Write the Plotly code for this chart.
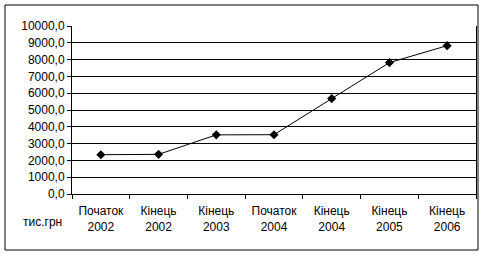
import plotly.graph_objects as go

categories = ["Початок<br>2002", "Кінець<br>2002", "Кінець<br>2003", "Початок<br>2004",
              "Кінець<br>2004", "Кінець<br>2005", "Кінець<br>2006"]
values = [2340, 2360, 3520, 3530, 5680, 7820, 8830]
y_ticks = [0, 1000, 2000, 3000, 4000, 5000, 6000, 7000, 8000, 9000, 10000]
unit_label = "тис.грн"

fig = go.Figure()
fig.add_trace(go.Scatter(
    x=categories, y=values, mode="lines+markers",
    line=dict(color="black", width=1),
    marker=dict(symbol="diamond", size=7, color="black"),
    showlegend=False,
))

fig.update_layout(
    width=491, height=256,
    margin=dict(l=72, r=15, t=26, b=62),
    paper_bgcolor="white", plot_bgcolor="white",
    separators=", ",
    font=dict(family="Liberation Sans, Arial, sans-serif", size=12, color="black"),
    xaxis=dict(
        type="category", showgrid=False, showline=True, linecolor="black", linewidth=1,
        ticks="outside", tickson="boundaries", ticklen=4, tickcolor="black",
        range=[-0.5, 6.5], mirror=False, ticklabelstandoff=6,
    ),
    yaxis=dict(
        range=[0, 10000], tickvals=y_ticks, tickformat=".1f",
        showgrid=True, gridcolor="black", gridwidth=1,
        showline=True, linecolor="black", linewidth=1, mirror=True,
        ticks="outside", ticklen=4, tickcolor="black", zeroline=False,
    ),
    shapes=[dict(type="rect", xref="paper", yref="paper",
                 x0=-67 / 404, x1=406 / 404, y0=-56 / 168, y1=189 / 168,
                 line=dict(color="black", width=1))],
    annotations=[dict(text=unit_label, xref="paper", yref="paper",
                      x=-30 / 404, y=-28 / 168, showarrow=False,
                      xanchor="center", yanchor="middle")],
)

fig.write_html("out.html")
